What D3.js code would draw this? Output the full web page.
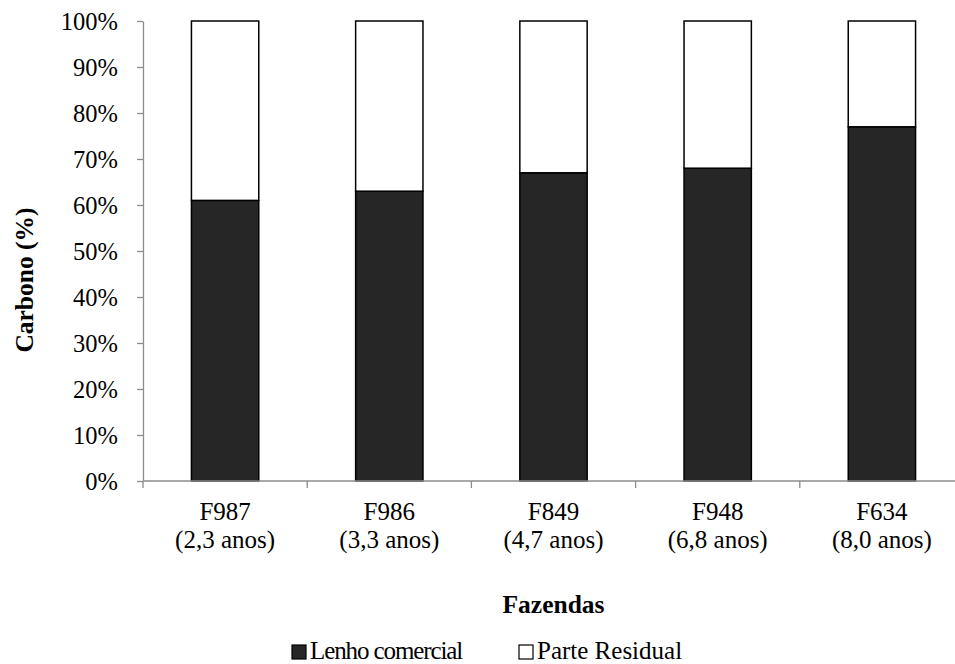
<!DOCTYPE html>
<html>
<head>
<meta charset="utf-8">
<script src="https://cdn.jsdelivr.net/npm/d3@7"></script>
<style>
  html, body { margin: 0; padding: 0; background: #fff; }
</style>
</head>
<body>
<svg id="chart" width="955" height="664"></svg>
<script>
// Farms and their stand ages
const farms = ["F987", "F986", "F849", "F948", "F634"];
const ages = ["(2,3 anos)", "(3,3 anos)", "(4,7 anos)", "(6,8 anos)", "(8,0 anos)"];
// Share of carbon (%) in commercial wood; the remainder is residual
const lenhoComercial = [61, 63, 67, 68, 77];
const parteResidual = [39, 37, 33, 32, 23];
const seriesNames = ["Lenho comercial", "Parte Residual"];
const seriesColors = ["#262626", "#ffffff"];
const yTicks = [0, 10, 20, 30, 40, 50, 60, 70, 80, 90, 100];

const FONT = "Liberation Serif";
const svg = d3.select("#chart").attr("font-family", FONT);
const margin = { left: 143, right: -9, top: 21, bottom: 183 };
const W = 955, H = 664;
const innerW = W - margin.left - margin.right;
const innerH = H - margin.top - margin.bottom;

const x = d3.scaleBand().domain(farms).range([0, innerW]).paddingInner(0.59).paddingOuter(0.295);
const xTickScale = d3.scaleBand().domain(farms).range([0, innerW]);
const y = d3.scaleLinear().domain([0, 100]).range([innerH, 0]);

const g = svg.append("g").attr("transform", `translate(${margin.left},${margin.top})`);

// stacked bars
const rows = farms.map((f, i) => ({ farm: f, lenho: lenhoComercial[i], resid: parteResidual[i] }));
const layers = d3.stack().keys(["lenho", "resid"])(rows);

g.selectAll("g.layer")
  .data(layers)
  .join("g")
  .attr("class", "layer")
  .attr("fill", (d, i) => seriesColors[i])
  .selectAll("rect")
  .data(d => d)
  .join("rect")
  .attr("x", d => x(d.data.farm))
  .attr("width", x.bandwidth())
  .attr("y", d => y(d[1]))
  .attr("height", d => y(d[0]) - y(d[1]))
  .attr("stroke", "#000")
  .attr("stroke-width", 1.5);

// y axis
const axisColor = "#8c8c8c";
const yAxis = g.append("g")
  .call(d3.axisLeft(y).tickValues(yTicks).tickFormat(d => d + "%").tickSize(6).tickSizeOuter(0));
yAxis.attr("font-family", FONT);
yAxis.select(".domain").attr("stroke", axisColor).attr("stroke-width", 1.3);
yAxis.selectAll(".tick line").attr("stroke", axisColor).attr("stroke-width", 1.3);
yAxis.selectAll(".tick text")
  .attr("x", -25)
  .attr("dy", "0.34em")
  .attr("font-size", 24.5)
  .attr("font-family", FONT)
  .attr("fill", "#000");

// x axis line and category separators
const xAxisG = g.append("g").attr("transform", `translate(0,${innerH})`);
xAxisG.append("line")
  .attr("x1", 0).attr("x2", innerW)
  .attr("stroke", axisColor).attr("stroke-width", 1.3);
const sepPositions = farms.map(f => xTickScale(f)).concat([innerW]);
xAxisG.selectAll("line.sep")
  .data(sepPositions)
  .join("line")
  .attr("class", "sep")
  .attr("x1", d => d).attr("x2", d => d)
  .attr("y1", 0).attr("y2", 7)
  .attr("stroke", axisColor).attr("stroke-width", 1.3);

// category labels (two lines)
const labels = xAxisG.selectAll("text.cat")
  .data(farms)
  .join("text")
  .attr("class", "cat")
  .attr("text-anchor", "middle")
  .attr("font-size", 25)
  .attr("font-family", FONT)
  .attr("fill", "#000")
  .attr("transform", d => `translate(${xTickScale(d) + xTickScale.bandwidth() / 2},0)`);
labels.append("tspan").attr("x", 0).attr("y", 39).text(d => d);
labels.append("tspan").attr("x", 0).attr("y", 67).text((d, i) => ages[i]);

// axis titles
svg.append("text")
  .attr("x", margin.left + innerW / 2)
  .attr("y", 613)
  .attr("text-anchor", "middle")
  .attr("font-size", 25.5)
  .attr("font-weight", "bold")
  .attr("font-family", FONT)
  .text("Fazendas");

svg.append("text")
  .attr("transform", "translate(33,280) rotate(-90)")
  .attr("text-anchor", "middle")
  .attr("font-size", 25.5)
  .attr("font-weight", "bold")
  .attr("font-family", FONT)
  .text("Carbono (%)");

// legend
const legendX = [292, 519];
const legendSpacing = [-1.1, 0];
const items = svg.append("g").selectAll("g")
  .data(seriesNames)
  .join("g")
  .attr("transform", (d, i) => `translate(${legendX[i]},645)`);
items.append("rect")
  .attr("width", 14).attr("height", 14)
  .attr("fill", (d, i) => seriesColors[i])
  .attr("stroke", "#000").attr("stroke-width", 1.2);
items.append("text")
  .attr("x", 18).attr("y", 14)
  .attr("font-size", 25)
  .attr("font-family", FONT)
  .attr("letter-spacing", (d, i) => legendSpacing[i])
  .attr("fill", "#000")
  .text(d => d);
</script>
</body>
</html>
